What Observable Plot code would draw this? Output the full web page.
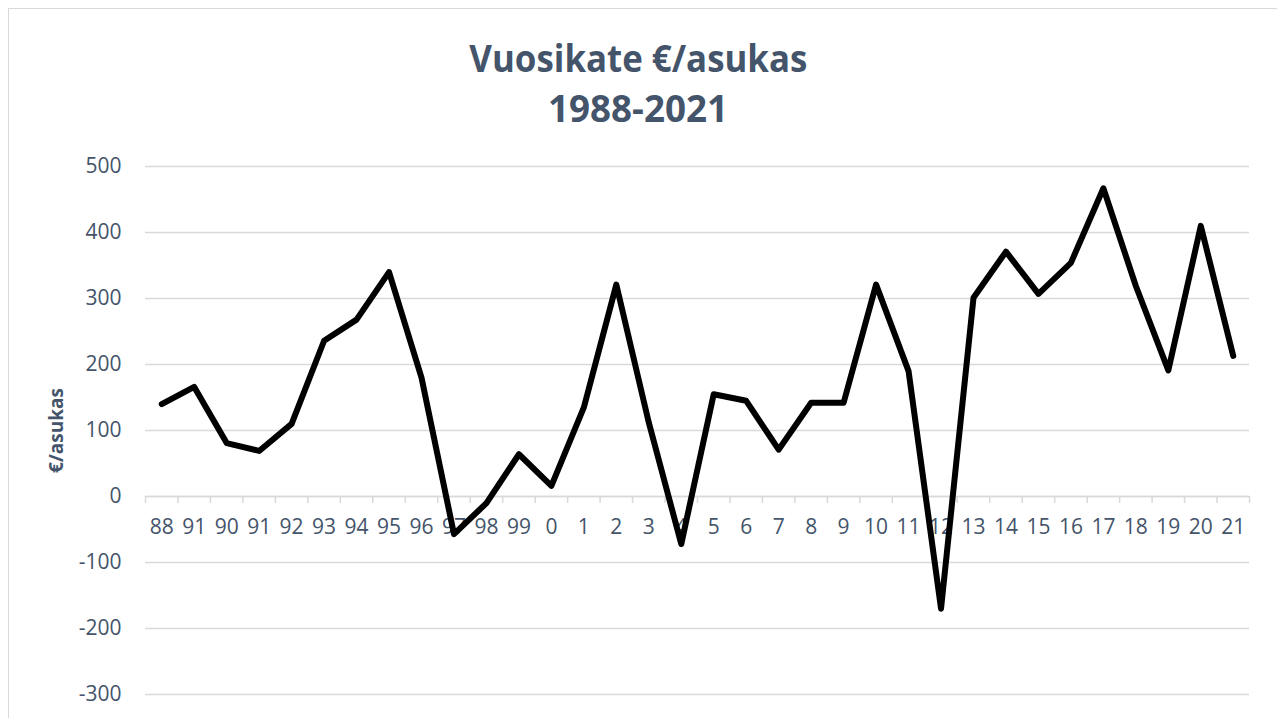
<!DOCTYPE html>
<html><head><meta charset="utf-8">
<script src="https://cdn.jsdelivr.net/npm/d3@7"></script>
<script src="https://cdn.jsdelivr.net/npm/@observablehq/plot@0.6"></script>
<style>
body{margin:0;background:#fff;width:1277px;height:718px;overflow:hidden;position:relative;font-family:"Open Sans",sans-serif;}
#frame{position:absolute;left:8px;top:8px;width:1300px;height:800px;border:1px solid #D9D9D9;box-sizing:border-box;pointer-events:none;}
.t{position:absolute;left:0;width:1277px;text-align:center;color:#44546A;font-weight:bold;font-size:38px;line-height:44px;white-space:nowrap;}
.t span{display:inline-block;transform-origin:center center;}
#chart{position:absolute;left:0;top:140px;}
</style></head>
<body>
<div id="frame"></div>
<div class="t" style="top:35px"><span id="t1">Vuosikate €/asukas</span></div>
<div class="t" style="top:85px"><span id="t2">1988-2021</span></div>
<div id="chart"></div>
<script>
const labels = ["88","91","90","91","92","93","94","95","96","97","98","99","0","1","2","3","4","5","6","7","8","9","10","11","12","13","14","15","16","17","18","19","20","21"];
const values = [140,166,81,69,110,236,268,340,180,-57,-10,64,16,135,321,112,-72,155,145,71,142,142,321,190,-170,301,371,307,354,467,319,191,410,213];
const yTicks = [-300,-200,-100,0,100,200,300,400,500];
const yLabel = "€/asukas";

// fit title widths to the reference
[["t1",338],["t2",180]].forEach(([id,w])=>{
  const el = document.getElementById(id);
  const r = el.getBoundingClientRect().width;
  el.style.transform = `scaleX(${w / r})`;
});

const data = labels.map((label, i) => ({i, label, value: values[i]}));
const bounds = d3.range(labels.length + 1).map(i => i - 0.5);
const slate = "#44546A", grid = "#D9D9D9";

const plot = Plot.plot({
  width: 1277, height: 578,
  marginLeft: 145, marginRight: 28, marginTop: 26, marginBottom: 24,
  x: {type: "linear", domain: [-0.5, labels.length - 0.5], axis: null},
  y: {domain: [-300, 500], axis: null},
  style: {fontFamily: "Open Sans", background: "none", overflow: "visible"},
  marks: [
    Plot.gridY(yTicks, {stroke: grid, strokeOpacity: 1, strokeWidth: 1.5}),
    Plot.axisY(yTicks, {tickSize: 0, tickPadding: 24, fill: slate, fontSize: 21, label: null, tickFormat: d => String(d)}),
    Plot.ruleY([0], {stroke: grid, strokeWidth: 1.5}),
    Plot.ruleX(bounds, {x: d => d, y1: 0, y2: 0, insetBottom: -7, stroke: grid, strokeWidth: 1.5}),
    Plot.text(data, {x: "i", y: 0, text: "label", dy: 31, fill: slate, fontSize: 21}),
    Plot.line(data, {x: "i", y: "value", stroke: "black", strokeWidth: 6, strokeLinejoin: "round", strokeLinecap: "round"}),
    Plot.text([yLabel], {text: d => d, frameAnchor: "left", textAnchor: "middle", dx: -89, rotate: -90, fontWeight: "bold", fontSize: 19, fill: slate})
  ]
});
document.getElementById("chart").appendChild(plot);
</script>
</body></html>
